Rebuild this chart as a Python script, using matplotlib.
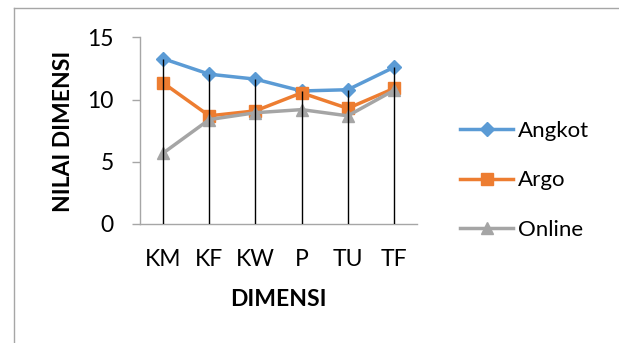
import matplotlib
matplotlib.use("Agg")
import matplotlib.pyplot as plt
from matplotlib.lines import Line2D

categories = ["KM", "KF", "KW", "P", "TU", "TF"]
angkot = [13.3, 12.05, 11.65, 10.7, 10.8, 12.6]
argo = [11.35, 8.7, 9.1, 10.55, 9.3, 10.9]
online = [5.7, 8.4, 8.95, 9.2, 8.7, 10.75]
series_names = ["Angkot", "Argo", "Online"]
yticks = [0, 5, 10, 15]

plt.rcParams['font.family'] = ['Lato', 'DejaVu Sans']

W, H = 619, 343
fig = plt.figure(figsize=(W / 100, H / 100), dpi=100)
ax = fig.add_axes([140 / W, 1 - 224 / H, (417 - 140) / W, (224 - 37.5) / H])

x = list(range(len(categories)))
blue, orange, gray = "#5B9BD5", "#ED7D31", "#A5A5A5"

l1, = ax.plot(x, angkot, color=blue, lw=2.5, marker="D", ms=7.5, zorder=3, label=series_names[0])
l2, = ax.plot(x, argo, color=orange, lw=2.5, marker="s", ms=9, zorder=3, label=series_names[1])
l3, = ax.plot(x, online, color=gray, lw=2.5, marker="^", ms=9, zorder=3, label=series_names[2])

tops = [max(a, b, c) for a, b, c in zip(angkot, argo, online)]
ax.vlines(x, 0, tops, color="black", lw=1.0, zorder=4)

ax.set_xlim(-0.5, len(categories) - 0.5)
ax.set_ylim(0, 15)
ax.set_yticks(yticks)
ax.set_xticks(x)
ax.set_xticklabels(categories)

axis_gray = "#A6A6A6"
for s in ["top", "right"]:
    ax.spines[s].set_visible(False)
for s in ["left", "bottom"]:
    ax.spines[s].set_color(axis_gray)
    ax.spines[s].set_linewidth(1.0)
ax.tick_params(axis="y", length=6, color=axis_gray, width=1.0, pad=13, labelsize=16.5)
ax.tick_params(axis="x", length=0, pad=18, labelsize=16.5)

fig.text(278 / W, 1 - 300 / H, "DIMENSI", ha="center", va="center", fontsize=16.5, fontweight="bold")
fig.text(64 / W, 1 - 131 / H, "NILAI DIMENSI", ha="center", va="center", rotation=90,
         fontsize=16.5, fontweight="bold")

leg = fig.legend(handles=[l1, l2, l3], loc="upper left",
                 bbox_to_anchor=(449 / W, 1 - 110 / H), frameon=False, fontsize=16,
                 handlelength=2.4, handletextpad=0.2, labelspacing=1.32, borderpad=0)

# outer chart border
fig.add_artist(Line2D([14 / W, 14 / W], [0, 1 - 8.3 / H], transform=fig.transFigure,
                      color=axis_gray, lw=1.0))
fig.add_artist(Line2D([14 / W, 1], [1 - 8.3 / H, 1 - 8.3 / H], transform=fig.transFigure,
                      color=axis_gray, lw=1.0))

fig.savefig("out.png", dpi=100)
